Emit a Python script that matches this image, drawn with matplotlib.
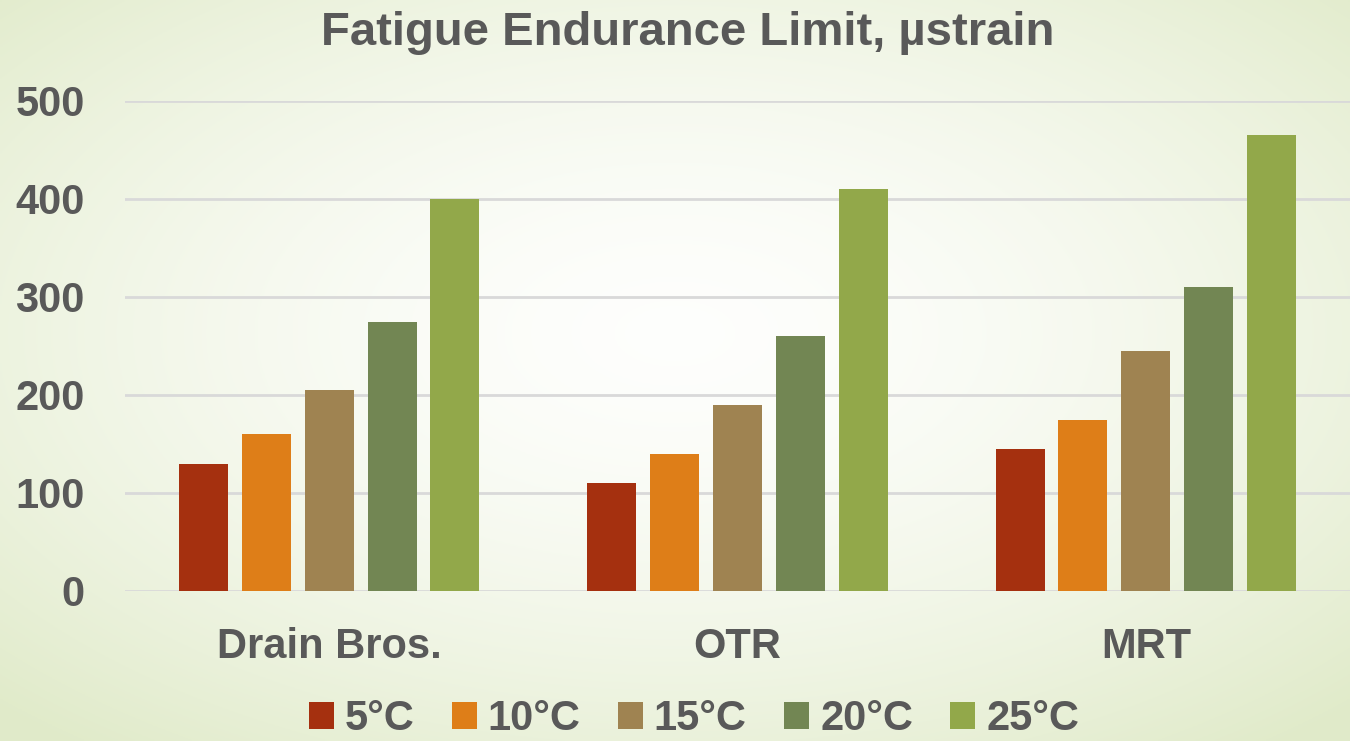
import numpy as np
import matplotlib
matplotlib.use("Agg")
import matplotlib.pyplot as plt
from matplotlib.patches import Patch

# data
categories = ["Drain Bros.", "OTR", "MRT"]
series_names = ["5°C", "10°C", "15°C", "20°C", "25°C"]
values = {
    "5°C": [130, 110, 145],
    "10°C": [160, 140, 175],
    "15°C": [205, 190, 245],
    "20°C": [275, 260, 310],
    "25°C": [400, 410, 465],
}
colors = ["#A5300F", "#DE7E18", "#9F8351", "#728653", "#92A84A"]
yticks = [0, 100, 200, 300, 400, 500]

text_color = "#595959"
plt.rcParams['font.family'] = ['Liberation Sans', 'DejaVu Sans']
plt.rcParams['font.weight'] = 'bold'

fig = plt.figure(figsize=(13.5, 7.41), dpi=100)

# soft radial background, white in the middle, pale green at the edges
bg = fig.add_axes([0, 0, 1, 1], zorder=-10)
yy, xx = np.mgrid[0:1:300j, 0:1:540j]
r = np.sqrt(((xx - 0.5) / 0.75) ** 2 + ((yy - 0.45) / 0.75) ** 2)
r = np.clip(r / 0.95, 0, 1)
c_in = np.array([0.995, 0.997, 0.99])
c_out = np.array([0.88, 0.92, 0.79])
img = c_in + (c_out - c_in) * (r[..., None] ** 1.6)
bg.imshow(img, aspect='auto', extent=[0, 1, 0, 1], origin='upper')
bg.axis('off')

W, H = 1350, 741
ax = fig.add_axes([125 / W, 1 - 591 / H, 1225 / W, 490 / H])
ax.patch.set_alpha(0)

x = np.arange(len(categories))
pitch = 0.154
bw = 0.12
for i, name in enumerate(series_names):
    off = (i - 2) * pitch
    ax.bar(x + off, values[name], width=bw, color=colors[i], zorder=3, label=name)

ax.set_xlim(-0.5, 2.5)
ax.set_ylim(0, 500)
ax.set_yticks(yticks)
ax.set_yticklabels([str(t) for t in yticks], fontsize=30, color=text_color, fontweight='bold')
ax.set_xticks(x)
ax.set_xticklabels(categories, fontsize=30, color=text_color, fontweight='bold')
ax.tick_params(axis='both', length=0)
ax.tick_params(axis='y', pad=29)
ax.tick_params(axis='x', pad=26)
for s in ax.spines.values():
    s.set_visible(False)
ax.grid(axis='y', color='#D9D9D9', linewidth=2, zorder=0)
ax.set_axisbelow(True)

fig.text(688 / W, 1 - 33 / H, "Fatigue Endurance Limit, µstrain", ha='center', va='center',
         fontsize=34, color=text_color, fontweight='bold')

handles = [Patch(facecolor=c, label=n) for c, n in zip(colors, series_names)]
fig.legend(handles=handles, loc='center', bbox_to_anchor=(0.514, 1 - 719 / H), ncol=5,
           frameon=False, labelcolor=text_color, handlelength=0.6,
           handleheight=0.6, handletextpad=0.26, columnspacing=0.9,
           borderpad=0, prop={'weight': 'bold', 'size': 30})

fig.savefig("out.png", dpi=100)
